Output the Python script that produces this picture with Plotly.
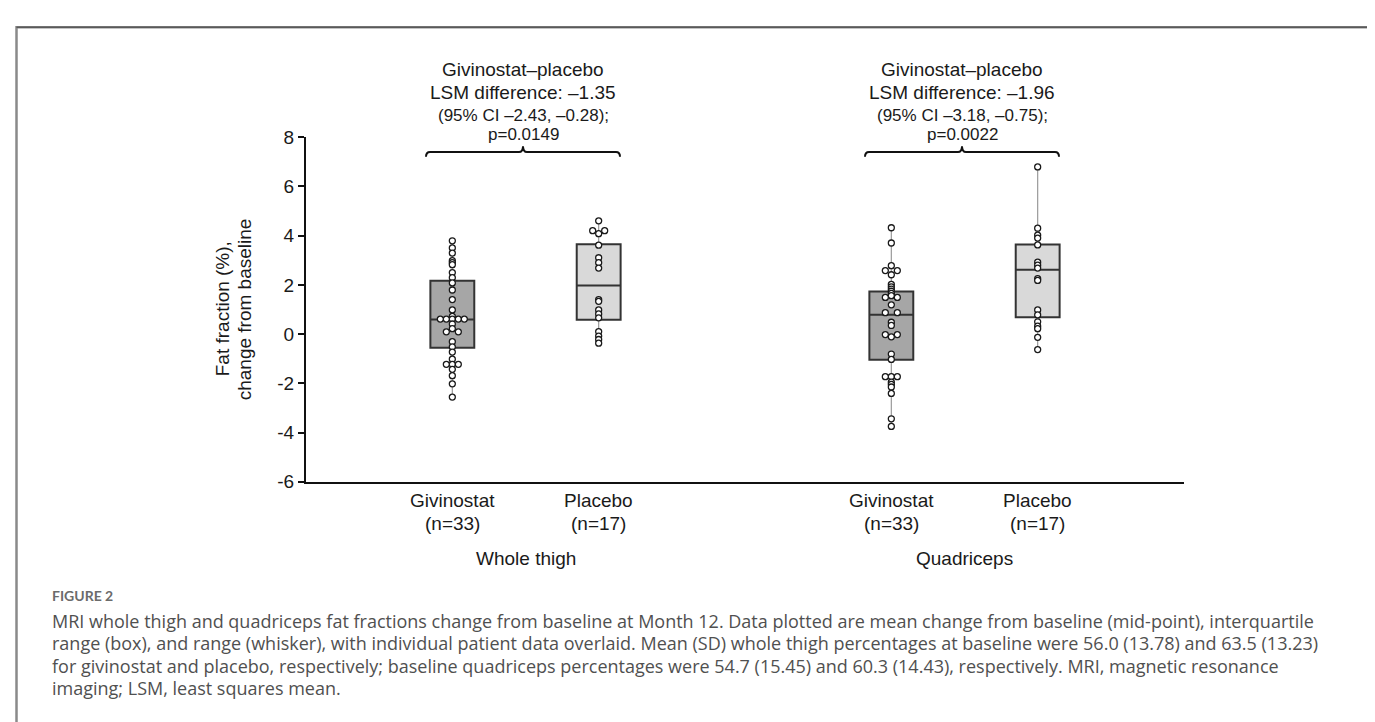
import plotly.graph_objects as go
from collections import defaultdict

# ---------------- data ----------------
groups = ["Whole thigh", "Quadriceps"]
arms = ["Givinostat", "Placebo"]
arm_n = [33, 17]

wt_givinostat = [3.79, 3.50, 3.29, 2.98, 2.90, 2.82, 2.50, 2.29, 2.08, 1.79, 1.40, 0.98, 0.72,
                 0.61, 0.61, 0.61, 0.61, 0.61, 0.41, 0.22, 0.09, 0.09, -0.31, -0.52, -0.73,
                 -1.02, -1.23, -1.23, -1.23, -1.43, -1.69, -2.02, -2.56]
wt_placebo = [4.60, 4.20, 4.08, 4.20, 3.61, 3.10, 2.90, 2.68, 1.40, 1.33, 0.98, 0.82, 0.66,
              0.10, -0.08, -0.22, -0.37]
qd_givinostat = [4.32, 3.70, 2.78, 2.58, 2.58, 2.41, 2.02, 1.92, 1.83, 1.74, 1.65, 1.56, 1.49,
                 1.49, 1.19, 0.87, 0.87, 0.48, 0.35, -0.02, -0.02, -0.11, -0.81, -1.03, -1.73,
                 -1.73, -1.73, -1.95, -2.04, -2.15, -2.41, -3.44, -3.75]
qd_placebo = [6.79, 4.30, 4.02, 3.90, 3.62, 2.92, 2.80, 2.68, 2.25, 2.18, 0.98, 0.78, 0.50,
              0.32, 0.22, -0.13, -0.63]

# box statistics: interquartile range and mean (mid-point), order WT-giv, WT-pla, QD-giv, QD-pla
box_q1 = [-0.55, 0.58, -1.04, 0.68]
box_mean = [0.59, 1.97, 0.79, 2.61]
box_q3 = [2.17, 3.65, 1.73, 3.64]

lsm_diff = ["\u20131.35", "\u20131.96"]
ci_low = ["\u20132.43", "\u20133.18"]
ci_high = ["\u20130.28", "\u20130.75"]
p_values = ["0.0149", "0.0022"]

y_ticks = [-6, -4, -2, 0, 2, 4, 6, 8]

caption_title = "FIGURE 2"
caption_lines = [
    "MRI whole thigh and quadriceps fat fractions change from baseline at Month 12. Data plotted are mean change from baseline (mid-point), interquartile",
    "range (box), and range (whisker), with individual patient data overlaid. Mean (SD) whole thigh percentages at baseline were 56.0 (13.78) and 63.5 (13.23)",
    "for givinostat and placebo, respectively; baseline quadriceps percentages were 54.7 (15.45) and 60.3 (14.43), respectively. MRI, magnetic resonance",
    "imaging; LSM, least squares mean.",
]

series = [wt_givinostat, wt_placebo, qd_givinostat, qd_placebo]

# ---------------- layout constants ----------------
W, H = 1375, 722
PL, PR, PT, PB = 298, 1176, 122.7, 477.7
XMIN, XMAX = 0, 6
YMIN, YMAX = -6, 8
FONT = "Liberation Sans, Arial, sans-serif"
CAPFONT = "'Open Sans', Lato, sans-serif"
TXT = "#1a1a1a"
FILLS = ["#a6a6a6", "#d9d9d9"]


def px(x):
    return x / W


def py(y):
    return 1 - y / H


def data_x_to_px(v):
    return PL + (v - XMIN) / (XMAX - XMIN) * (PR - PL)


unit_px = (PR - PL) / (XMAX - XMIN)
spacing = 6.0 / unit_px  # horizontal spacing of tied points


def swarm_offsets(vals):
    bins = defaultdict(list)
    for i, v in enumerate(vals):
        bins[round(v, 2)].append(i)
    off = [0.0] * len(vals)
    for _, idx in bins.items():
        n = len(idx)
        if n % 2 == 1:
            slots = [0] + [s * k for k in range(1, n // 2 + 1) for s in (-1, 1)]
        else:
            slots = [s * k for k in range(1, n // 2 + 1) for s in (-1, 1)]
        for i, sl in zip(idx, slots):
            off[i] = sl * spacing
    return off


fig = go.Figure()

positions = []
for gi in range(len(groups)):
    for ai in range(len(arms)):
        positions.append(gi * 3 + ai + 1)

# whiskers (range), drawn outside the box
for k, vals in enumerate(series):
    p = positions[k]
    fig.add_trace(go.Scatter(
        x=[p, p, None, p, p],
        y=[min(vals), box_q1[k], None, box_q3[k], max(vals)],
        mode="lines", line=dict(color="#9a9a9a", width=1.2),
        hoverinfo="skip", showlegend=False))

# boxes
for k, vals in enumerate(series):
    p = positions[k]
    fig.add_trace(go.Box(
        x=[p], q1=[box_q1[k]], median=[box_mean[k]], q3=[box_q3[k]],
        lowerfence=[box_q1[k]], upperfence=[box_q3[k]],
        width=0.30, whiskerwidth=0, boxpoints=False,
        fillcolor=FILLS[k % 2], line=dict(color="#333333", width=2),
        showlegend=False, hoverinfo="skip"))

# individual points
for k, vals in enumerate(series):
    p = positions[k]
    offs = swarm_offsets(vals)
    fig.add_trace(go.Scatter(
        x=[p + o for o in offs], y=vals, mode="markers",
        marker=dict(symbol="circle", size=6, color="white",
                    line=dict(color="#1a1a1a", width=1.3)),
        showlegend=False, hoverinfo="y"))

annotations = []
shapes = []

# category & group labels
for gi, g in enumerate(groups):
    for ai, a in enumerate(arms):
        p = positions[gi * 2 + ai]
        annotations.append(dict(x=p, xref="x", y=py(497), yref="paper", text=a,
                                showarrow=False, xanchor="center", yanchor="middle",
                                font=dict(family=FONT, size=19, color=TXT)))
        annotations.append(dict(x=p, xref="x", y=py(521), yref="paper",
                                text=f"(n={arm_n[ai]})",
                                showarrow=False, xanchor="center", yanchor="middle",
                                font=dict(family=FONT, size=19, color=TXT)))
    gc = (positions[gi * 2] + positions[gi * 2 + 1]) / 2
    annotations.append(dict(x=gc, xref="x", y=py(557), yref="paper", text=g,
                            showarrow=False, xanchor="center", yanchor="middle",
                            font=dict(family=FONT, size=19, color=TXT)))

    # comparison text and bracket
    cpx = data_x_to_px(gc) - 2.5
    lines = [("Givinostat\u2013placebo", 53, 19),
             (f"LSM difference: {lsm_diff[gi]}", 77, 19),
             (f"(95% CI {ci_low[gi]}, {ci_high[gi]});", 100, 17),
             (f"p={p_values[gi]}", 120, 17)]
    for t, yy, fs in lines:
        annotations.append(dict(x=px(cpx), xref="paper", y=py(yy), yref="paper", text=t,
                                showarrow=False, xanchor="center", yanchor="middle",
                                font=dict(family=FONT, size=fs, color=TXT)))
    x0, x1 = cpx - 97, cpx + 97
    yl, yh, yt = 138, 143, 132
    path = (f"M {px(x0)},{py(yh)} Q {px(x0)},{py(yl)} {px(x0 + 4)},{py(yl)} "
            f"L {px(cpx - 4)},{py(yl)} Q {px(cpx)},{py(yl)} {px(cpx)},{py(yt)} "
            f"Q {px(cpx)},{py(yl)} {px(cpx + 4)},{py(yl)} "
            f"L {px(x1 - 4)},{py(yl)} Q {px(x1)},{py(yl)} {px(x1)},{py(yh)}")
    shapes.append(dict(type="path", path=path, xref="paper", yref="paper",
                       line=dict(color="#111111", width=2)))

# y-axis title (two lines)
annotations.append(dict(x=px(214), xref="paper", y=py(300), yref="paper",
                        text="Fat fraction (%),", textangle=-90, showarrow=False,
                        xanchor="center", yanchor="middle",
                        font=dict(family=FONT, size=19, color=TXT)))
annotations.append(dict(x=px(236), xref="paper", y=py(300), yref="paper",
                        text="change from baseline", textangle=-90, showarrow=False,
                        xanchor="center", yanchor="middle",
                        font=dict(family=FONT, size=19, color=TXT)))

# caption
annotations.append(dict(x=px(42), xref="paper", y=py(595), yref="paper",
                        text=f"<b>{caption_title}</b>", showarrow=False,
                        xanchor="left", yanchor="middle",
                        font=dict(family="Lato, 'Open Sans', sans-serif", size=14,
                                  color="#6b6b6b")))
for i, line in enumerate(caption_lines):
    annotations.append(dict(x=px(42), xref="paper", y=py(621 + i * 23), yref="paper",
                            text=line, showarrow=False, xanchor="left", yanchor="middle",
                            font=dict(family=CAPFONT, size=18, color="#505050")))

# frame
shapes.append(dict(type="rect", xref="paper", yref="paper",
                   x0=px(8.5), x1=px(1368), y0=py(9.5), y1=py(760),
                   line=dict(color="#8a8a8a", width=2.5)))
shapes.append(dict(type="line", xref="paper", yref="paper",
                   x0=px(8.5), x1=px(1368), y0=py(9.5), y1=py(9.5),
                   line=dict(color="#5a5a5a", width=1.5)))

fig.update_layout(
    width=W, height=H,
    margin=dict(l=0, r=0, t=0, b=0),
    paper_bgcolor="white", plot_bgcolor="white",
    showlegend=False,
    boxmode="overlay",
    xaxis=dict(domain=[px(PL), px(PR)], range=[XMIN, XMAX], showline=True,
               linecolor="#111111", linewidth=2, showticklabels=False, ticks="",
               showgrid=False, zeroline=False, fixedrange=True),
    yaxis=dict(domain=[py(PB), py(PT)], range=[YMIN, YMAX], showline=True,
               linecolor="#111111", linewidth=2, tickvals=y_ticks,
               ticktext=[str(v) for v in y_ticks], ticks="outside", ticklen=6,
               tickwidth=1.5, tickcolor="#111111", showgrid=False, zeroline=False,
               tickfont=dict(family=FONT, size=19, color=TXT), fixedrange=True),
    annotations=annotations,
    shapes=shapes,
)

fig.write_html("out.html")
